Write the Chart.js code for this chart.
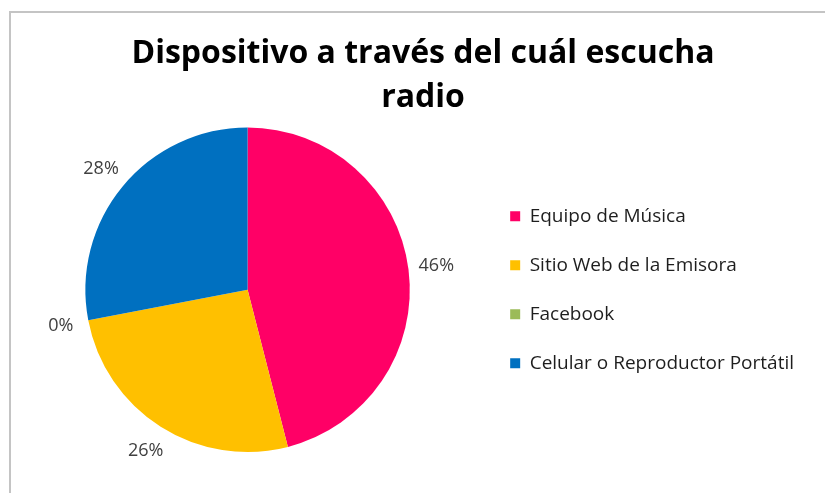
<!DOCTYPE html>
<html>
<head>
<meta charset="utf-8">
<script src="https://cdn.jsdelivr.net/npm/chart.js@4"></script>
<style>
  html, body { margin: 0; padding: 0; background: #ffffff; overflow: hidden; }
  #wrap { position: relative; width: 825px; height: 493px; }
  #frame { position: absolute; left: 9px; top: 11px; width: 900px; height: 600px;
           border-left: 2px solid #c4c4c4; border-top: 2px solid #c4c4c4; pointer-events: none; }
  canvas { position: absolute; left: 0; top: 0; }
</style>
</head>
<body>
<div id="wrap">
  <canvas id="c" width="825" height="493"></canvas>
  <div id="frame"></div>
</div>
<script>
const titleLines = ["Dispositivo a través del cuál escucha", "radio"];
const categories = ["Equipo de Música", "Sitio Web de la Emisora", "Facebook", "Celular o Reproductor Portátil"];
const values = [46, 26, 0, 28];
const colors = ["#FF0066", "#FFC000", "#9BBB59", "#0070C0"];

const FONT = "'Open Sans', Lato, sans-serif";

const outsideLabels = {
  id: 'outsideLabels',
  afterLayout(chart) {
    const t = chart.titleBlock;
    if (t) { t.left = 21; t.right = 825; }
  },
  afterDatasetsDraw(chart) {
    const ctx = chart.ctx;
    const meta = chart.getDatasetMeta(0);
    ctx.save();
    ctx.font = "18px " + FONT;
    ctx.fillStyle = "#404040";
    ctx.textAlign = "center";
    ctx.textBaseline = "middle";
    meta.data.forEach((arc, i) => {
      const p = arc.getProps(['x', 'y', 'startAngle', 'endAngle', 'outerRadius'], true);
      const mid = (p.startAngle + p.endAngle) / 2;
      const r = p.outerRadius + 28;
      const x = p.x + Math.cos(mid) * r;
      const y = p.y + Math.sin(mid) * r;
      ctx.fillText(values[i] + "%", x, y);
    });
    ctx.restore();
  }
};

new Chart(document.getElementById('c'), {
  type: 'pie',
  data: {
    labels: categories,
    datasets: [{ data: values, backgroundColor: colors, borderWidth: 0, hoverOffset: 0 }]
  },
  options: {
    responsive: false,
    animation: false,
    events: [],
    layout: { padding: { left: 15, right: 21, top: 0, bottom: 41 } },
    plugins: {
      title: {
        display: true,
        text: titleLines,
        color: "#000000",
        font: { family: FONT, size: 32, weight: 'bold', lineHeight: 1.4 },
        padding: { top: 31, bottom: 7 }
      },
      legend: {
        display: true,
        fullSize: false,
        position: 'right',
        align: 'center',
        labels: {
          boxWidth: 10,
          boxHeight: 10,
          padding: 30,
          color: "#1e1e1e",
          font: { family: FONT, size: 19 }
        }
      },
      tooltip: { enabled: false }
    }
  },
  plugins: [outsideLabels]
});
</script>
</body>
</html>
